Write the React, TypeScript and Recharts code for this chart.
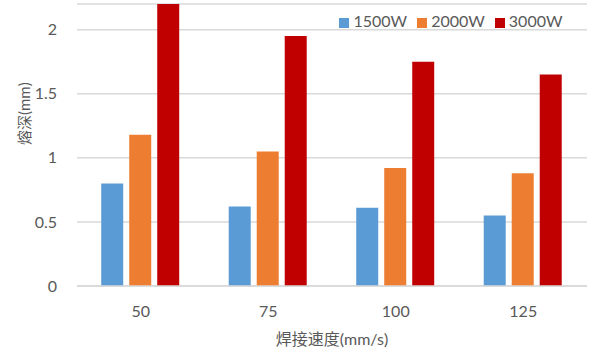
import { BarChart, Bar, XAxis, YAxis, CartesianGrid, Legend, Label } from "recharts";

const speeds = ["50", "75", "100", "125"];
const p1500 = [0.8, 0.62, 0.61, 0.55];
const p2000 = [1.18, 1.05, 0.92, 0.88];
const p3000 = [2.2, 1.95, 1.75, 1.65];
const yTicks = [0, 0.5, 1, 1.5, 2];

const data = speeds.map((s, i) => ({
  speed: s,
  "1500W": p1500[i],
  "2000W": p2000[i],
  "3000W": p3000[i],
}));

const font = "Lato, 'Noto Sans CJK SC', sans-serif";
const gray = "#595959";

const App = () => {
  return (
    <div style={{ position: "absolute", left: 0, top: 0, width: 600, height: 351, background: "#fff" }}>
      <BarChart
        width={600}
        height={351}
        data={data}
        margin={{ top: 4, right: 13, left: 0, bottom: 0 }}
        barCategoryGap="19%"
        barGap={6}
        style={{ fontFamily: font }}
      >
        <CartesianGrid vertical={false} stroke="#d9d9d9" strokeWidth={1.5} />
        <XAxis
          dataKey="speed"
          height={65}
          axisLine={{ stroke: "#d9d9d9", strokeWidth: 1.5 }}
          tickLine={false}
          tick={{ fill: gray, fontSize: 16 }}
          tickMargin={14}
        >
          <Label value="焊接速度(mm/s)" position="insideBottom" offset={6} fill={gray} fontSize={16} />
        </XAxis>
        <YAxis
          width={77}
          domain={[0, 2.2]}
          ticks={yTicks}
          allowDataOverflow
          axisLine={false}
          tickLine={false}
          tick={{ fill: gray, fontSize: 16 }}
          tickMargin={14}
        >
          <Label value="熔深(mm)" angle={-90} position="insideLeft" offset={10} fill={gray} fontSize={15} dx={15} />
        </YAxis>
        <Legend
          layout="horizontal"
          verticalAlign="middle"
          align="center"
          iconType="square"
          iconSize={10}
          wrapperStyle={{ left: 336, top: 11, width: 240, fontSize: 16, color: gray }}
          formatter={(v) => <span style={{ color: gray }}>{v}</span>}
        />
        <Bar dataKey="1500W" fill="#5B9BD5" isAnimationActive={false} />
        <Bar dataKey="2000W" fill="#ED7D31" isAnimationActive={false} />
        <Bar dataKey="3000W" fill="#C00000" isAnimationActive={false} />
      </BarChart>
    </div>
  );
};

export default App;
